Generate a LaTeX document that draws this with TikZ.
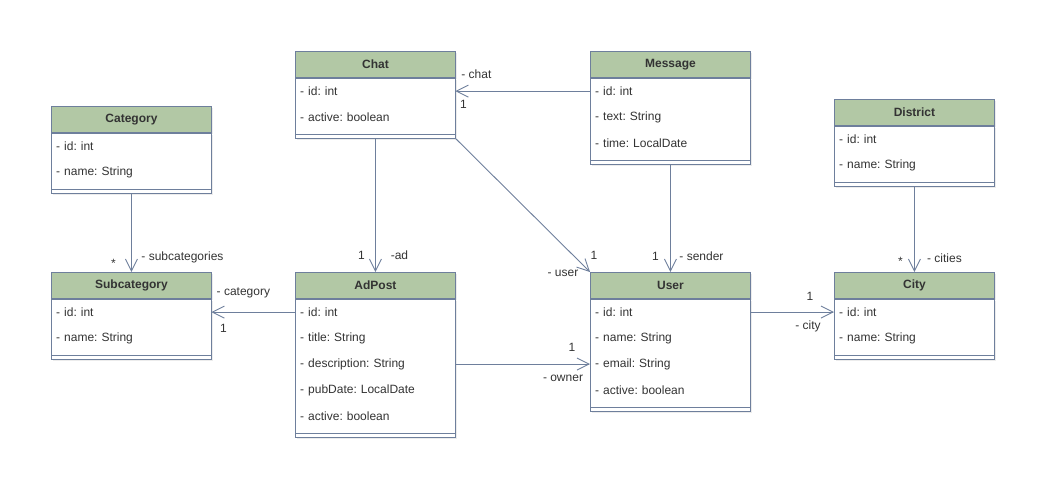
\documentclass[tikz,border=0pt]{standalone}
\usepackage{fontspec}
\setmainfont{Liberation Sans}
\usepackage{tikz}
\usetikzlibrary{arrows.meta, positioning, calc, shadows}
\frenchspacing
\definecolor{headc}{HTML}{B2C8A5}
\definecolor{linec}{HTML}{6E7F9C}
\definecolor{textc}{HTML}{333333}
\tikzstyle{head} = [rectangle, draw=linec, fill=headc, line width=0.9pt, minimum width=160pt, minimum height=26pt, text centered, text=textc, font=\fontsize{12}{14}\selectfont\bfseries, anchor=north west, drop shadow={opacity=0.15, shadow xshift=2pt, shadow yshift=-2pt}]
\tikzstyle{body} = [rectangle, draw=linec, fill=white, line width=0.9pt, minimum width=160pt, anchor=north west, drop shadow={opacity=0.15, shadow xshift=2pt, shadow yshift=-2pt}]
\tikzstyle{attr} = [rectangle, minimum width=160pt, minimum height=26pt, text width=150pt, align=left, inner xsep=5pt, text=textc, font=\fontsize{12}{14}\selectfont, anchor=north west]
\tikzstyle{lbl} = [inner sep=1pt, text=textc, font=\fontsize{12}{14}\selectfont]
\tikzstyle{arrow} = [draw=linec, line width=0.9pt, -{Straight Barb[length=12pt, width=12pt]}]

% class box: name, x, y, title, number of attributes, attributes
\newcommand{\umlclass}[6]{
  \node[head] (#1) at (#2,#3) {#4};
  \node[body, minimum height=#5*26pt+8pt] (#1-body) at (#1.south west) {};
  \foreach \a [count=\i] in {#6}
    \node[attr] (#1-\i) at ($(#1.south west)+(0,{(\i-1)*26})$) {\a};
  \draw[linec, line width=0.9pt] ($(#1-body.south west)+(0,-4)$) -- ($(#1-body.south east)+(0,-4)$);
}

\begin{document}
\begin{tikzpicture}[x=1pt, y=-1pt]
\useasboundingbox (0,0) rectangle (1056,497);

% Classes
\umlclass{chat}{295}{51}{Chat}{2}{- id: int, - active: boolean}
\umlclass{message}{590}{51}{Message}{3}{- id: int, - text: String, - time: LocalDate}
\umlclass{category}{51}{106}{Category}{2}{- id: int, - name: String}
\umlclass{district}{834}{99}{District}{2}{- id: int, - name: String}
\umlclass{subcategory}{51}{272}{Subcategory}{2}{- id: int, - name: String}
\umlclass{adpost}{295}{272}{AdPost}{5}{- id: int, - title: String, - description: String, - pubDate: LocalDate, - active: boolean}
\umlclass{user}{590}{272}{User}{4}{- id: int, - name: String, - email: String, - active: boolean}
\umlclass{city}{834}{272}{City}{2}{- id: int, - name: String}

% Associations
\draw [arrow] (message-1.west) -- (chat-1.east)
  node[lbl, pos=1, xshift=21pt, yshift=17pt] {- chat}
  node[lbl, pos=1, xshift=8pt, yshift=-13pt] {1};
\draw [arrow] (chat-body.south) -- (adpost.north)
  node[lbl, pos=1, xshift=-14pt, yshift=17pt] {1}
  node[lbl, pos=1, xshift=24pt, yshift=17pt] {-ad};
\draw [arrow] (chat-body.south east) -- (user.north west)
  node[lbl, pos=1, xshift=-27pt, yshift=-1pt] {- user}
  node[lbl, pos=1, xshift=4pt, yshift=17pt] {1};
\draw [arrow] (message-body.south) -- (user.north)
  node[lbl, pos=1, xshift=-15pt, yshift=16pt] {1}
  node[lbl, pos=1, xshift=31pt, yshift=16pt] {- sender};
\draw [arrow] (category-body.south) -- (subcategory.north)
  node[lbl, pos=1, xshift=-18pt, yshift=9pt] {*}
  node[lbl, pos=1, xshift=51pt, yshift=15pt] {- subcategories};
\draw [arrow] (adpost-1.west) -- (subcategory-1.east)
  node[lbl, pos=1, xshift=32pt, yshift=19pt] {- category}
  node[lbl, pos=1, xshift=12pt, yshift=-16pt] {1};
\draw [arrow] (adpost-3.east) -- (user-3.west)
  node[lbl, pos=1, xshift=-18pt, yshift=17pt] {1}
  node[lbl, pos=1, xshift=-27pt, yshift=-14pt] {- owner};
\draw [arrow] (user-1.east) -- (city-1.west)
  node[lbl, pos=1, xshift=-24pt, yshift=16pt] {1}
  node[lbl, pos=1, xshift=-26pt, yshift=-14pt] {- city};
\draw [arrow] (district-body.south) -- (city.north)
  node[lbl, pos=1, xshift=-14pt, yshift=11pt] {*}
  node[lbl, pos=1, xshift=30pt, yshift=14pt] {- cities};
\end{tikzpicture}
\end{document}
